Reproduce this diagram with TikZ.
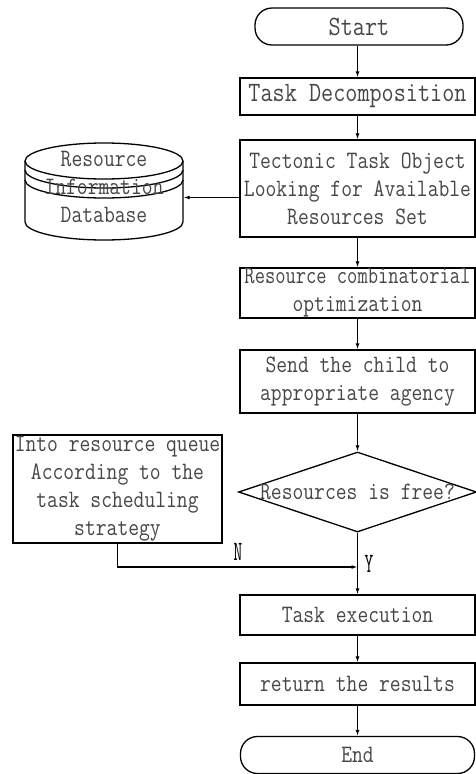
\documentclass[tikz,border=0pt]{standalone}
\usepackage{fontspec}
\newfontfamily\flowfont{Latin Modern Mono}[FakeStretch=0.84]
\newfontfamily\labelfont{Latin Modern Mono}[FakeStretch=0.6]
\usetikzlibrary{shapes,arrows,arrows.meta,positioning,calc}
\definecolor{textgray}{RGB}{70,70,70}
\tikzset{
  flowtext/.style={text=textgray, font=\flowfont\fontsize{25}{28}\selectfont},
  bigtext/.style={text=textgray, font=\flowfont\fontsize{28}{30}\selectfont},
  branchtext/.style={font=\labelfont\fontsize{28}{30}\selectfont},
  procbox/.style={draw, rectangle, inner sep=0pt, align=center, minimum width=235pt},
  termbox/.style={draw, rectangle, rounded corners=17pt, inner sep=0pt, minimum height=37pt},
  decision/.style={draw, diamond, inner sep=0pt, minimum width=238pt, minimum height=80pt},
  flowline/.style={line width=1.3pt, ->, >={Latex[length=6pt,width=4pt]}}
}

\begin{document}
\begin{tikzpicture}[x=1pt, y=-1pt, line width=1.3pt]
  \useasboundingbox (0,0) rectangle (476,774);

  % Main column
  \node[termbox, bigtext, minimum width=208pt] (start) at (359,26.5) {Start};
  \node[procbox, bigtext, minimum height=37pt] (decomp) at (357.5,96.5) {Task Decomposition};
  \node[procbox, flowtext, minimum height=97pt] (tect) at (357.5,188.5)
    {Tectonic Task Object\\Looking for Available\\Resources Set};
  \node[procbox, flowtext, minimum height=50pt] (combin) at (357.5,293)
    {\scalebox{0.95}[1]{Resource combinatorial}\\optimization};
  \node[procbox, flowtext, minimum height=63pt] (send) at (357.5,381.5)
    {Send the child to\\appropriate agency};
  \node[decision, flowtext] (free) at (357.5,492) {\makebox[0pt]{Resources is free?}};
  \node[procbox, flowtext, minimum height=40pt] (exec) at (357.5,615) {Task execution};
  \node[procbox, flowtext, minimum height=42pt] (results) at (357.5,684) {return the results};
  \node[termbox, flowtext, minimum width=234pt] (end) at (357.5,755) {End};

  % Side branch
  \node[procbox, flowtext, minimum width=209pt, minimum height=108pt] (queue) at (117.5,489)
    {Into resource queue\\According to the\\task scheduling\\strategy};
  \coordinate (join) at (357.5,567);

  % Database
  \draw (104,161) ellipse [x radius=79pt, y radius=18pt];
  \draw (25,170) arc[start angle=180, end angle=360, x radius=79pt, y radius=18pt];
  \draw (25,180) arc[start angle=180, end angle=360, x radius=79pt, y radius=18pt];
  \draw (25,161) -- (25,222) arc[start angle=180, end angle=360, x radius=79pt, y radius=18pt] -- (183,161);
  \node[flowtext, align=center, inner sep=0pt, minimum width=158pt] (db) at (104,187)
    {Resource\\Information\\Database};

  % Connectors
  \draw[flowline] (start.south -| decomp) -- (decomp);
  \draw[flowline] (decomp) -- (tect);
  \draw[flowline] (tect) -- (combin);
  \draw[flowline] (combin) -- (send);
  \draw[flowline] (send) -- (free);
  \draw[flowline] (free) -- (exec);
  \draw[flowline] (exec) -- (results);
  \draw[flowline] (results) -- (end);
  \draw[flowline] ([yshift=-9pt]tect.west) -- ([yshift=-9pt]tect.west -| db.east);
  \draw[flowline] (queue.south) |- (join);

  % Branch labels
  \node[branchtext] (nlabel) at (238,552) {N};
  \node[branchtext] (ylabel) at (369,564) {Y};
\end{tikzpicture}
\end{document}
